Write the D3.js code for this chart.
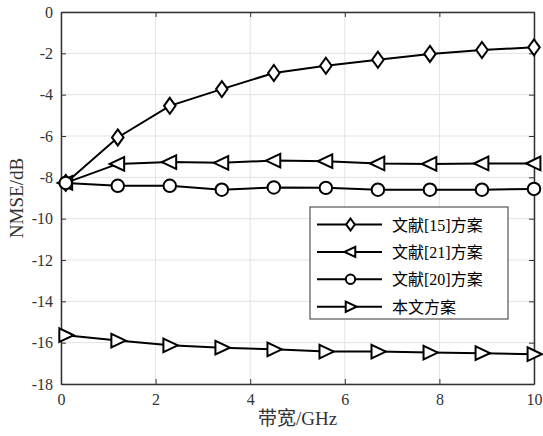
<!DOCTYPE html>
<html>
<head>
<meta charset="utf-8">
<script src="https://cdn.jsdelivr.net/npm/d3@7"></script>
<style>
  body { margin: 0; background: #fff; }
  svg text { font-family: "Liberation Serif", "Noto Sans CJK SC", serif; }
</style>
</head>
<body>
<script>
// bandwidth points (GHz)
var bandwidth = [0.1, 1.2, 2.3, 3.4, 4.5, 5.6, 6.7, 7.8, 8.9, 10]

// NMSE values (dB) per scheme
var ref15 = [-8.27, -6.07, -4.54, -3.73, -2.95, -2.6, -2.31, -2.03, -1.84, -1.71]
var ref21 = [-8.27, -7.35, -7.26, -7.3, -7.19, -7.22, -7.33, -7.35, -7.33, -7.33]
var ref20 = [-8.27, -8.41, -8.41, -8.6, -8.49, -8.51, -8.6, -8.6, -8.6, -8.56]
var ours  = [-15.64, -15.9, -16.13, -16.24, -16.32, -16.43, -16.43, -16.48, -16.51, -16.56]

var seriesNames = ["文献[15]方案", "文献[21]方案", "文献[20]方案", "本文方案"]
var seriesMarkers = ["diamond", "left", "circle", "right"]

var xTicks = [0, 2, 4, 6, 8, 10]
var yTicks = [0, -2, -4, -6, -8, -10, -12, -14, -16, -18]

var W = 543, H = 436
var m = { left: 61, right: 9, top: 12, bottom: 52 }

var svg = d3.select("body")
  .append("svg")
  .attr("width", W)
  .attr("height", H)

var x = d3.scaleLinear().domain([0, 10]).range([m.left, W - m.right])
var y = d3.scaleLinear().domain([-18, 0]).range([H - m.bottom, m.top])

// grid
svg.append("g").selectAll("line").data(xTicks).enter().append("line")
  .attr("x1", d => x(d)).attr("x2", d => x(d))
  .attr("y1", m.top).attr("y2", H - m.bottom)
  .attr("stroke", "#e3e3e3").attr("stroke-width", 1)
svg.append("g").selectAll("line").data(yTicks).enter().append("line")
  .attr("y1", d => y(d)).attr("y2", d => y(d))
  .attr("x1", m.left).attr("x2", W - m.right)
  .attr("stroke", "#e3e3e3").attr("stroke-width", 1)

// axes, ticks pointing inward like matlab
var xAxis = svg.append("g")
  .attr("transform", "translate(0," + (H - m.bottom) + ")")
  .call(d3.axisBottom(x).tickValues(xTicks).tickSizeInner(-5).tickSizeOuter(0).tickPadding(10))
var xTop = svg.append("g")
  .attr("transform", "translate(0," + m.top + ")")
  .call(d3.axisTop(x).tickValues(xTicks).tickSizeInner(-5).tickSizeOuter(0).tickFormat(""))
var yAxis = svg.append("g")
  .attr("transform", "translate(" + m.left + ",0)")
  .call(d3.axisLeft(y).tickValues(yTicks).tickSizeInner(-5).tickSizeOuter(0).tickPadding(8))
var yRight = svg.append("g")
  .attr("transform", "translate(" + (W - m.right) + ",0)")
  .call(d3.axisRight(y).tickValues(yTicks).tickSizeInner(-5).tickSizeOuter(0).tickFormat(""))

svg.selectAll(".domain").attr("stroke", "#333").attr("stroke-width", 1.5)
svg.selectAll(".tick line").attr("stroke", "#333")
;[xAxis, xTop, yAxis, yRight].forEach(a => a.attr("font-family", null).attr("font-size", null))
svg.selectAll(".tick text")
  .style("font-family", "'Liberation Serif', serif")
  .style("font-size", "16px").attr("fill", "#333")
yAxis.selectAll(".tick text").text(d => d < 0 ? "-" + Math.abs(d) : d)

// axis titles
svg.append("text")
  .attr("x", x(5)).attr("y", 425)
  .attr("text-anchor", "middle")
  .style("font-size", "19px").attr("fill", "#333")
  .text("带宽/GHz")
svg.append("text")
  .attr("transform", "translate(23," + y(-9) + ") rotate(-90)")
  .attr("text-anchor", "middle")
  .style("font-size", "19px").attr("fill", "#333")
  .text("NMSE/dB")

function markerPath(type, s) {
  if (type == "diamond") return "M0," + (-s) + "L" + (s * 0.72) + ",0L0," + s + "L" + (-s * 0.72) + ",0Z"
  if (type == "left") return "M" + (-s) + ",0L" + (s * 0.8) + "," + (-s * 0.85) + "L" + (s * 0.8) + "," + (s * 0.85) + "Z"
  if (type == "right") return "M" + s + ",0L" + (-s * 0.8) + "," + (-s * 0.85) + "L" + (-s * 0.8) + "," + (s * 0.85) + "Z"
  return null
}

function drawMarker(g, type, cx, cy, s) {
  if (type == "circle") {
    g.append("circle").attr("cx", cx).attr("cy", cy).attr("r", s * 0.78)
      .attr("fill", "#fff").attr("stroke", "#000").attr("stroke-width", 2)
  } else {
    g.append("path").attr("d", markerPath(type, s))
      .attr("transform", "translate(" + cx + "," + cy + ")")
      .attr("fill", "#fff").attr("stroke", "#000").attr("stroke-width", 2)
  }
}

var allSeries = [ref15, ref21, ref20, ours]
var line = d3.line().x((d, i) => x(bandwidth[i])).y(d => y(d))

allSeries.forEach(function (vals, k) {
  var g = svg.append("g")
  g.append("path").datum(vals).attr("d", line)
    .attr("fill", "none").attr("stroke", "#000").attr("stroke-width", 2)
  vals.forEach(function (v, i) {
    drawMarker(g, seriesMarkers[k], x(bandwidth[i]), y(v), 8)
  })
})

// legend
var lg = svg.append("g")
lg.append("rect")
  .attr("x", 310).attr("y", 207).attr("width", 198).attr("height", 112)
  .attr("fill", "#fff").attr("stroke", "#333").attr("stroke-width", 1)
seriesNames.forEach(function (name, k) {
  var ly = 224.5 + k * 27.4
  lg.append("line").attr("x1", 317).attr("x2", 382).attr("y1", ly).attr("y2", ly)
    .attr("stroke", "#000").attr("stroke-width", 2)
  drawMarker(lg, seriesMarkers[k], 350.5, ly, 6)
  lg.append("text").attr("x", 392).attr("y", ly + 6)
    .style("font-size", "16px").attr("fill", "#000")
    .text(name)
})
</script>
</body>
</html>
